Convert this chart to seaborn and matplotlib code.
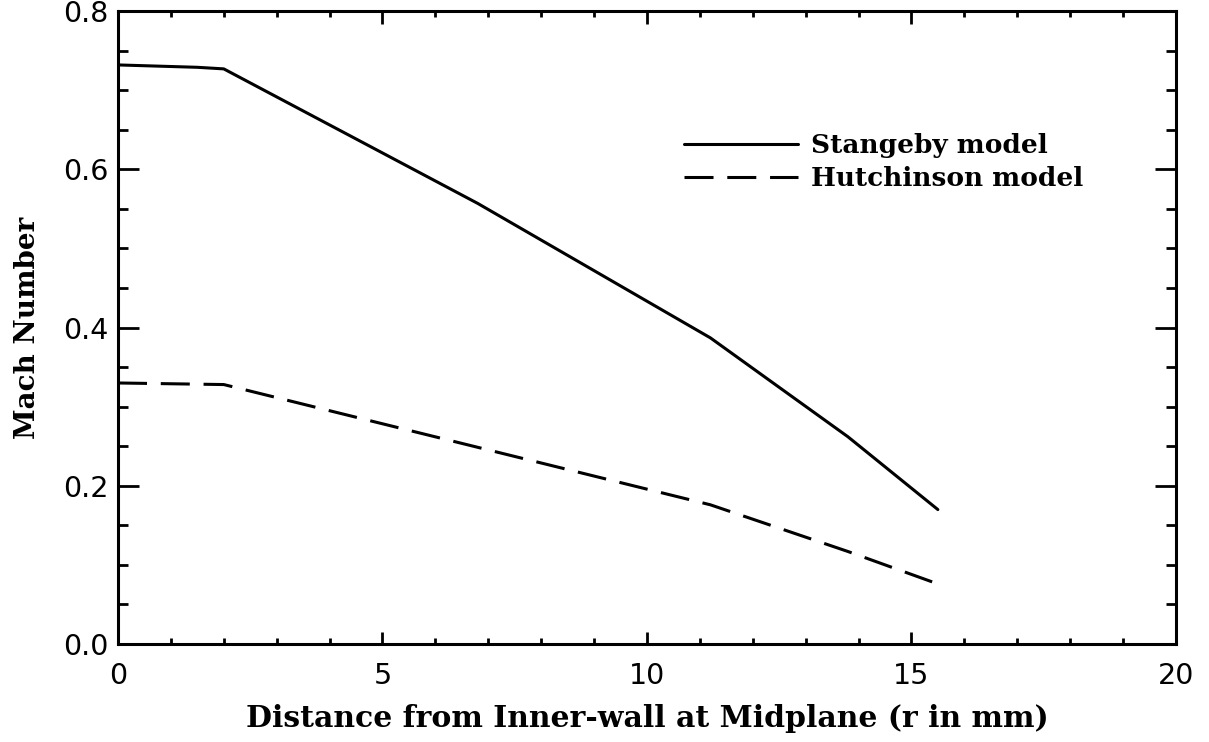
import numpy as np
import pandas as pd
import seaborn as sns
import matplotlib
matplotlib.use("Agg")
import matplotlib.pyplot as plt
from matplotlib.ticker import MultipleLocator

# Mach number profiles vs. distance from the inner wall
stangeby_r = [0.0, 1.5, 2.0, 6.8, 11.2, 13.8, 15.5]
stangeby_m = [0.732, 0.729, 0.727, 0.557, 0.387, 0.262, 0.170]
hutchinson_r = [0.0, 2.0, 11.2, 13.8, 15.5]
hutchinson_m = [0.330, 0.328, 0.176, 0.117, 0.076]
model_names = ["Stangeby model", "Hutchinson model"]

x_ticks = [0, 5, 10, 15, 20]
y_ticks = [0.0, 0.2, 0.4, 0.6, 0.8]

df = pd.concat([
    pd.DataFrame({"r": stangeby_r, "mach": stangeby_m, "model": model_names[0]}),
    pd.DataFrame({"r": hutchinson_r, "mach": hutchinson_m, "model": model_names[1]}),
], ignore_index=True)

sns.set_theme(style="ticks")
plt.rcParams["font.family"] = ["DejaVu Sans"]
plt.rcParams["text.color"] = "black"
plt.rcParams["axes.labelcolor"] = "black"
plt.rcParams["xtick.color"] = "black"
plt.rcParams["ytick.color"] = "black"

fig = plt.figure(figsize=(12.09, 7.42), dpi=100)
ax = fig.add_axes([0.0976, 0.132, 0.875, 0.853])

sns.lineplot(data=df, x="r", y="mach", style="model", style_order=model_names,
             dashes={model_names[0]: "", model_names[1]: (9.5, 4.5)},
             color="black", linewidth=2.2, sort=False, estimator=None, ax=ax)

ax.set_xlim(0, 20)
ax.set_ylim(0, 0.8)
ax.set_xticks(x_ticks)
ax.set_yticks(y_ticks)
ax.set_xticklabels([str(v) for v in x_ticks])
ax.set_yticklabels([f"{v:.1f}" for v in y_ticks])
ax.xaxis.set_minor_locator(MultipleLocator(1))
ax.yaxis.set_minor_locator(MultipleLocator(0.05))

for s in ax.spines.values():
    s.set_linewidth(2.2)
    s.set_color("black")

ax.tick_params(axis="both", which="both", direction="in", top=True, right=True,
               color="black", width=2.0, labelcolor="black")
ax.tick_params(axis="x", which="major", length=9, pad=13, labelsize=20.5)
ax.tick_params(axis="x", which="minor", length=4.5)
ax.tick_params(axis="y", which="major", length=15, pad=7, labelsize=20.5)
ax.tick_params(axis="y", which="minor", length=7.5)

ax.set_xlabel("Distance from Inner-wall at Midplane (r in mm)",
              fontdict=dict(family="DejaVu Serif", size=21.5, weight="bold"),
              labelpad=10, color="black")
ax.set_ylabel("Mach Number",
              fontdict=dict(family="DejaVu Serif", size=20, weight="bold"),
              labelpad=16, color="black")

leg = ax.legend(loc="upper left", bbox_to_anchor=(0.513, 0.845), frameon=False,
                handlelength=4.3, handletextpad=0.5, labelspacing=0.3,
                prop={"family": "DejaVu Serif", "size": 19, "weight": "bold"})
for line in leg.get_lines():
    line.set_linewidth(2.2)

fig.savefig("out.png", dpi=100, facecolor="white")
